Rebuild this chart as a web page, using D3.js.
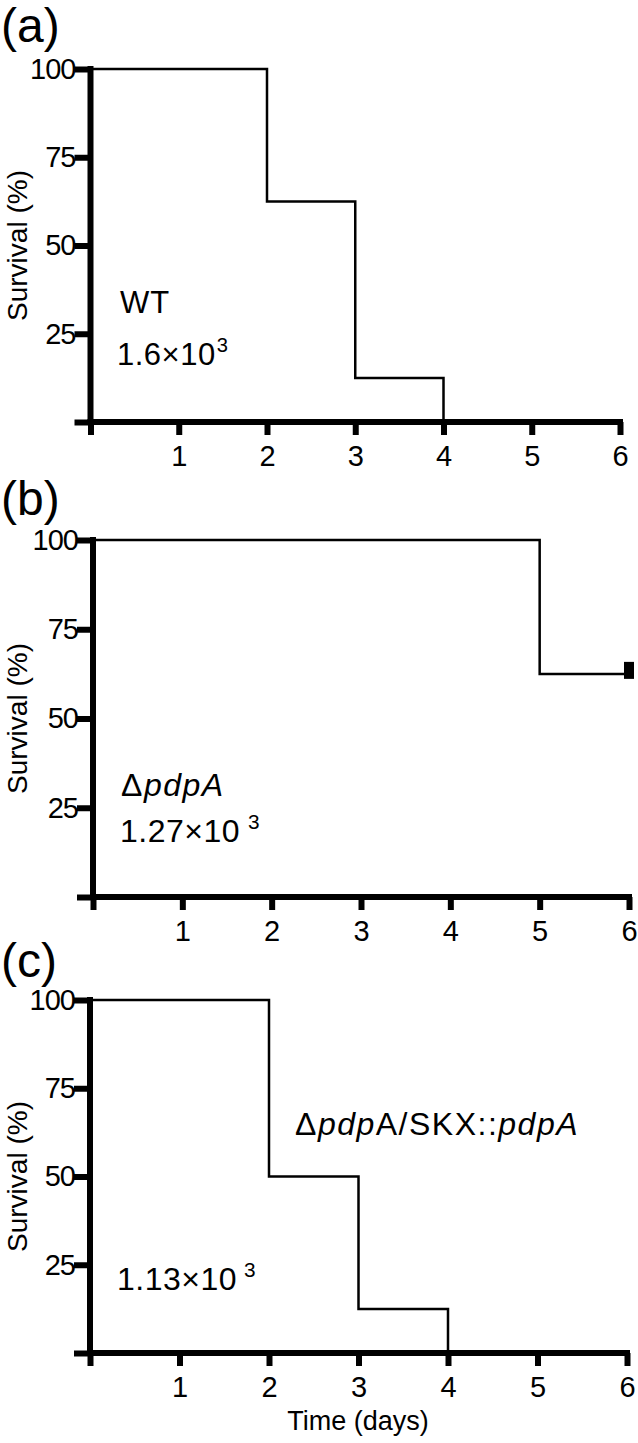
<!DOCTYPE html>
<html>
<head>
<meta charset="utf-8">
<script src="https://cdn.jsdelivr.net/npm/d3@7"></script>
<style>
  html, body { margin: 0; padding: 0; background: #fff; }
  svg { display: block; font-family: "Liberation Sans", Arial, sans-serif; }
</style>
</head>
<body>
<svg id="chart" width="638" height="1443"></svg>
<script>
// ---- data ----
const panelLetters = ["(a)", "(b)", "(c)"];
const strainLabels = ["WT", "ΔpdpA", "ΔpdpA/SKX::pdpA"];
const doseMantissa = ["1.6", "1.27", "1.13"];
const doseExponent = ["3", "3", "3"];
// step survival curves: time (days) and survival (%)
const daysA = [0, 2, 2, 3, 3, 4, 4];
const survA = [100, 100, 62.5, 62.5, 12.5, 12.5, 0];
const daysB = [0, 5, 5, 6];
const survB = [100, 100, 62.5, 62.5];
const daysC = [0, 2, 2, 3, 3, 4, 4];
const survC = [100, 100, 50, 50, 12.5, 12.5, 0];
const censoredB = [{ day: 6, surv: 62.5 }];
const xTicks = [0, 1, 2, 3, 4, 5, 6];
const yTicks = [0, 25, 50, 75, 100];
const yTitle = "Survival (%)";
const xTitle = "Time (days)";

const svg = d3.select("#chart");

const panels = [
  { days: daysA, surv: survA, censored: [], x0: 90.5, x1: 620, yTop: 69, yBot: 422, letterY: 42 },
  { days: daysB, surv: survB, censored: censoredB, x0: 93, x1: 629, yTop: 540, yBot: 897, letterY: 515 },
  { days: daysC, surv: survC, censored: [], x0: 90, x1: 627, yTop: 1000, yBot: 1353, letterY: 977 }
];

const tickFont = 29;

panels.forEach((p, i) => {
  const x = d3.scaleLinear().domain([0, 6]).range([p.x0, p.x1]);
  const y = d3.scaleLinear().domain([0, 100]).range([p.yBot, p.yTop]);
  const g = svg.append("g");

  // y axis
  const yAxis = d3.axisLeft(y).tickValues(yTicks).tickSize(13).tickSizeOuter(0).tickPadding(3)
    .tickFormat(d => d === 0 ? "" : d);
  const ya = g.append("g").attr("transform", `translate(${p.x0},0)`).call(yAxis);
  ya.select(".domain").attr("stroke-width", 6).attr("d", `M0,${p.yTop - 3}V${p.yBot + 3}`);
  ya.selectAll(".tick line").attr("stroke-width", 6).attr("x2", -16);
  ya.selectAll(".tick text").attr("font-size", tickFont).attr("fill", "#000")
    .attr("font-family", "Liberation Sans, Arial, sans-serif").attr("x", -15).attr("letter-spacing", -1);

  // x axis
  const xAxis = d3.axisBottom(x).tickValues(xTicks).tickSize(13).tickSizeOuter(0).tickPadding(10)
    .tickFormat(d => d === 0 ? "" : d);
  const xa = g.append("g").attr("transform", `translate(0,${p.yBot})`).call(xAxis);
  xa.select(".domain").attr("stroke-width", 6).attr("d", `M${p.x0 - 3},0H${p.x1 + 3}`);
  xa.selectAll(".tick line").attr("stroke-width", 6).attr("y2", 13);
  xa.selectAll(".tick text").attr("font-size", tickFont).attr("fill", "#000")
    .attr("font-family", "Liberation Sans, Arial, sans-serif");

  // y title
  g.append("text")
    .attr("transform", `translate(27,${(p.yTop + p.yBot) / 2}) rotate(-90)`)
    .attr("text-anchor", "middle")
    .attr("font-size", 28)
    .text(yTitle);

  // panel letter
  g.append("text").attr("x", 1).attr("y", p.letterY).attr("font-size", 48).text(panelLetters[i]);

  // survival step curve
  const pts = p.days.map((d, k) => [x(d), y(p.surv[k])]);
  g.append("path")
    .attr("d", d3.line()(pts))
    .attr("fill", "none").attr("stroke", "#000").attr("stroke-width", 2.5)
    .attr("stroke-linejoin", "miter");

  // censored marks
  g.selectAll(".cens").data(p.censored).enter().append("rect")
    .attr("x", d => x(d.day) - 5).attr("y", d => y(d.surv) - 12)
    .attr("width", 10).attr("height", 17).attr("fill", "#000");
});

// annotations
function strain(sel, parts) {
  parts.forEach(pt => {
    sel.append("tspan").attr("font-style", pt.i ? "italic" : "normal").text(pt.t);
  });
}
function dose(x, yb, fs, mant, exp, gap) {
  const t = svg.append("text").attr("x", x).attr("y", yb).attr("font-size", fs).attr("letter-spacing", 0.5);
  t.append("tspan").text(mant + "×10");
  t.append("tspan").attr("font-size", fs * 0.65).attr("dx", gap).attr("dy", -fs * 0.42).text(exp);
}

// (a)
svg.append("text").attr("x", 120).attr("y", 313).attr("font-size", 31).attr("letter-spacing", 1).text(strainLabels[0]);
dose(117, 365, 31, doseMantissa[0], doseExponent[0], 1);

// (b)
const tb = svg.append("text").attr("x", 121).attr("y", 796).attr("font-size", 32).attr("letter-spacing", 1.5);
strain(tb, [{ t: "Δ", i: false }, { t: "pdpA", i: true }]);
dose(120, 842, 32, doseMantissa[1], doseExponent[1], 8);

// (c)
const tc = svg.append("text").attr("x", 295).attr("y", 1135).attr("font-size", 32)
  .attr("letter-spacing", 1.5);
strain(tc, [{ t: "Δ", i: false }, { t: "pdp", i: true }, { t: "A/SKX::", i: false }, { t: "pdpA", i: true }]);
dose(117, 1290, 32, doseMantissa[2], doseExponent[2], 7);

// x title
svg.append("text").attr("x", 358).attr("y", 1430).attr("text-anchor", "middle")
  .attr("font-size", 27).text(xTitle);
</script>
</body>
</html>
